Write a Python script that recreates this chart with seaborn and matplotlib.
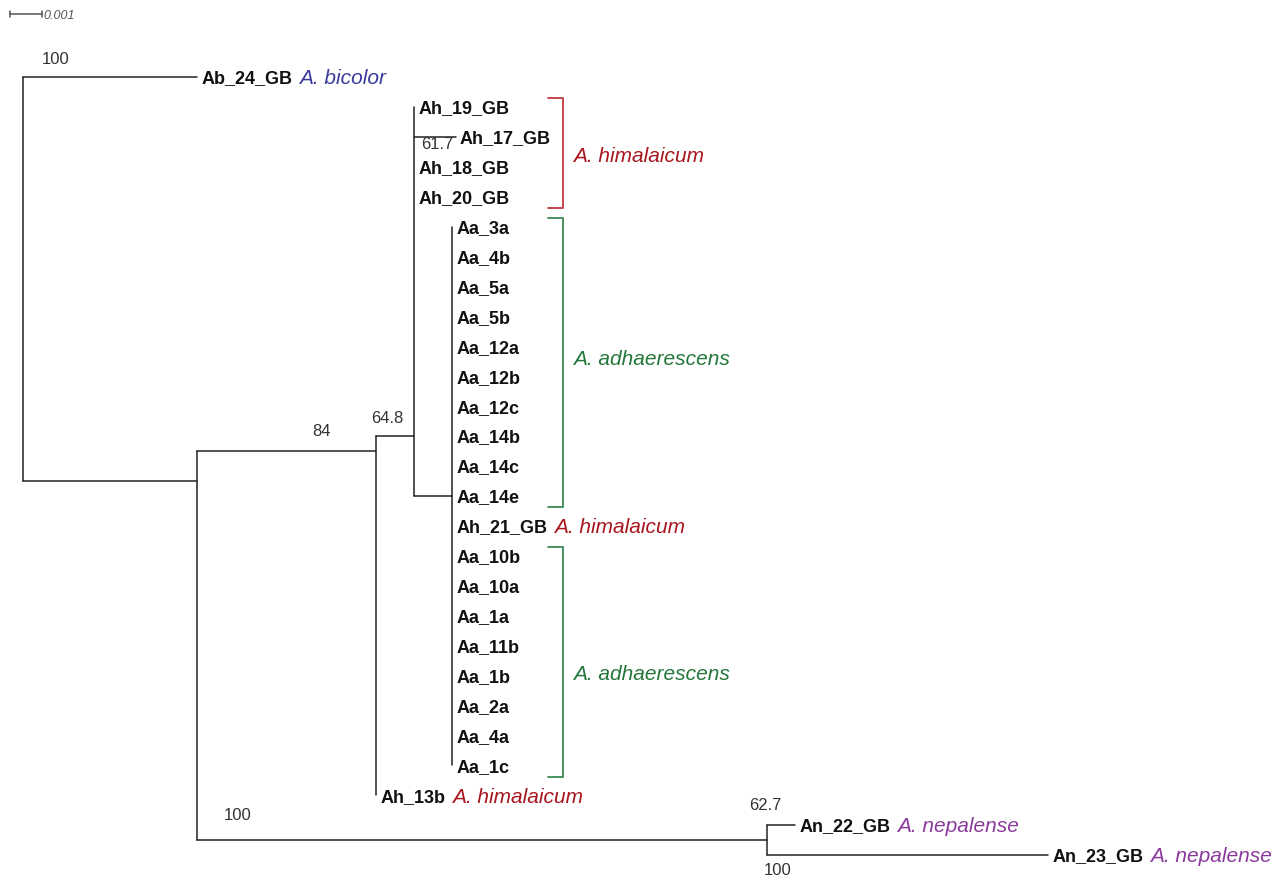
import numpy as np
import pandas as pd
import seaborn as sns
import matplotlib.pyplot as plt

# tree: tips in drawing order, then every node with its parent and branch length
tips = ["Ab_24_GB", "Ah_19_GB", "Ah_17_GB", "Ah_18_GB", "Ah_20_GB",
        "Aa_3a", "Aa_4b", "Aa_5a", "Aa_5b", "Aa_12a", "Aa_12b", "Aa_12c",
        "Aa_14b", "Aa_14c", "Aa_14e", "Ah_21_GB",
        "Aa_10b", "Aa_10a", "Aa_1a", "Aa_11b", "Aa_1b", "Aa_2a", "Aa_4a", "Aa_1c",
        "Ah_13b", "An_22_GB", "An_23_GB"]

node_names = ["root", "Ab_24_GB", "A", "B", "N", "C", "Ah_13b",
              "Ah_19_GB", "Ah_17_GB", "Ah_18_GB", "Ah_20_GB", "D",
              "Aa_3a", "Aa_4b", "Aa_5a", "Aa_5b", "Aa_12a", "Aa_12b", "Aa_12c",
              "Aa_14b", "Aa_14c", "Aa_14e", "Ah_21_GB",
              "Aa_10b", "Aa_10a", "Aa_1a", "Aa_11b", "Aa_1b", "Aa_2a", "Aa_4a", "Aa_1c",
              "An_22_GB", "An_23_GB"]
node_parents = [None, "root", "root", "A", "A", "B", "B",
                "C", "C", "C", "C", "C"] + ["D"] * 19 + ["N", "N"]
branch_lengths = [0.0, 0.00544, 0.00544, 0.0056, 0.0178, 0.00119, 0.0,
                  0.0, 0.00130, 0.0, 0.0, 0.00119] + [0.0] * 19 + [0.0009, 0.0088]

# bootstrap values (node -> value), shown near the start of that node's branch
support_nodes = ["Ab_24_GB", "B", "C", "Ah_17_GB", "N", "An_22_GB", "An_23_GB"]
support_values = ["100", "84", "64.8", "61.7", "100", "62.7", "100"]

# species names written after some tips
tip_species = {"Ab_24_GB": "A. bicolor", "Ah_21_GB": "A. himalaicum",
               "Ah_13b": "A. himalaicum", "An_22_GB": "A. nepalense",
               "An_23_GB": "A. nepalense"}

# brackets: first tip, last tip, label
bracket_first = ["Ah_19_GB", "Aa_3a", "Aa_10b"]
bracket_last = ["Ah_20_GB", "Aa_14e", "Aa_1c"]
bracket_labels = ["A. himalaicum", "A. adhaerescens", "A. adhaerescens"]

scale_length = 0.001

# ---- styles ----
species_colors = {"A. bicolor": "#3b3b9e", "A. himalaicum": "#a8151d",
                  "A. nepalense": "#8b3a9c", "A. adhaerescens": "#23773a"}
bracket_line_colors = ["#c0393f", "#3a8a55", "#3a8a55"]
bracket_label_dy = [5, -2, 14]     # pixels, downward
support_offsets = {"Ab_24_GB": (33, -18), "B": (124, -19), "C": (11, -18),
                   "Ah_17_GB": (23, 8), "N": (41, -24), "An_22_GB": (-1, -19),
                   "An_23_GB": (11, 16)}
PX_X = 32000.0   # pixels per substitution unit
ROOT_PX = 23
TIP0_PX = 77
TIP_STEP = 29.92
W, H = 1286, 881

sns.set_theme(style="white")
plt.rcParams["font.family"] = ["Liberation Sans", "DejaVu Sans"]

# ---- layout ----
parent = dict(zip(node_names, node_parents))
blen = dict(zip(node_names, branch_lengths))
children = {n: [c for c in node_names if parent[c] == n] for n in node_names}
xpos = {}
for n in node_names:
    xpos[n] = 0.0 if parent[n] is None else xpos[parent[n]] + blen[n]
tip_y = {t: i for i, t in enumerate(tips)}


def descendants(n):
    if not children[n]:
        return [n]
    out = []
    for c in children[n]:
        out += descendants(c)
    return out


ypos = {n: np.mean([tip_y[t] for t in descendants(n)]) for n in node_names}

rows = []
sid = 0
for n in node_names:
    if parent[n] is not None:
        rows += [(sid, xpos[parent[n]], ypos[n]), (sid, xpos[n], ypos[n])]
        sid += 1
    if children[n]:
        ys = [ypos[c] for c in children[n]]
        rows += [(sid, xpos[n], min(ys)), (sid, xpos[n], max(ys))]
        sid += 1
seg = pd.DataFrame(rows, columns=["seg", "x", "y"])

fig = plt.figure(figsize=(W / 100, H / 100), dpi=100)
ax = fig.add_axes([0, 0, 1, 1])

sns.lineplot(data=seg, x="x", y="y", units="seg", estimator=None, sort=False,
             color="#222222", lw=1.1, ax=ax, legend=False)

# tip labels
for t in tips:
    nm = ax.annotate(t, (xpos[t], tip_y[t]), xytext=(4, 0), textcoords="offset pixels",
                     ha="left", va="center_baseline", fontsize=13, fontweight="bold",
                     color="#111111")
    if t in tip_species:
        sp = tip_species[t]
        ax.annotate(sp, xy=(1, 0.5), xycoords=nm, xytext=(7, 0), textcoords="offset pixels",
                    ha="left", va="center", fontsize=15, style="italic",
                    color=species_colors[sp])

# bootstrap values
for n, v in zip(support_nodes, support_values):
    dx, dy = support_offsets[n]
    ax.annotate(v, (xpos[parent[n]], ypos[n]), xytext=(dx, -dy), textcoords="offset pixels",
                ha="center", va="center", fontsize=12, color="#333333")

# brackets
bx = (563 - ROOT_PX) / PX_X
tick = 15 / PX_X
brows = []
for i, (a, b) in enumerate(zip(bracket_first, bracket_last)):
    y0, y1 = tip_y[a] - 0.3, tip_y[b] + 0.38
    brows += [(i, bx - tick, y0), (i, bx, y0), (i, bx, y1), (i, bx - tick, y1)]
brk = pd.DataFrame(brows, columns=["grp", "x", "y"])
sns.lineplot(data=brk, x="x", y="y", hue="grp", units="grp", estimator=None, sort=False,
             palette=bracket_line_colors, lw=1.3, ax=ax, legend=False)
for a, b, lab, dy in zip(bracket_first, bracket_last, bracket_labels, bracket_label_dy):
    ax.annotate(lab, (bx, (tip_y[a] + tip_y[b]) / 2), xytext=(10, -dy),
                textcoords="offset pixels", ha="left", va="center", fontsize=15,
                style="italic", color=species_colors[lab])

# scale bar
sx0 = (10 - ROOT_PX) / PX_X
sy = (14 - TIP0_PX) / TIP_STEP
ax.plot([sx0, sx0 + scale_length], [sy, sy], color="#555555", lw=1.1)
for xx in (sx0, sx0 + scale_length):
    ax.plot([xx, xx], [sy - 0.1, sy + 0.1], color="#555555", lw=1.1)
ax.annotate("0.001", (sx0 + scale_length, sy), xytext=(1, -2), textcoords="offset pixels",
            ha="left", va="center", fontsize=9, style="italic", color="#555555")

ax.set_xlim(-ROOT_PX / PX_X, (W - ROOT_PX) / PX_X)
ax.set_ylim((H - TIP0_PX) / TIP_STEP, -TIP0_PX / TIP_STEP)
ax.axis("off")
fig.savefig("out.png", dpi=100, facecolor="white")
